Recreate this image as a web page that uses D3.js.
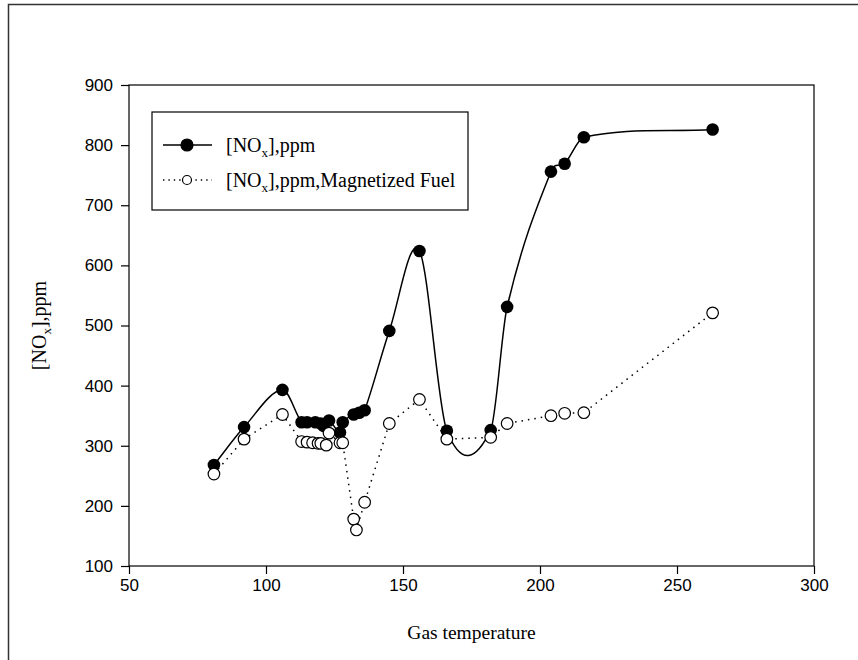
<!DOCTYPE html>
<html>
<head>
<meta charset="utf-8">
<script src="https://cdn.jsdelivr.net/npm/d3@7"></script>
<style>
  html, body { margin: 0; padding: 0; background: #fff; }
  svg { display: block; }
</style>
</head>
<body>
<svg id="chart" width="858" height="660"></svg>
<script>
// ---- data ----
const xTicks = [50, 100, 150, 200, 250, 300];
const yTicks = [100, 200, 300, 400, 500, 600, 700, 800, 900];

const tempNormal = [81, 92, 106, 113, 115, 118, 120, 121, 123, 127, 128, 132, 134, 136, 145, 156, 166, 182, 188, 204, 209, 216, 263];
const noxNormal  = [268, 331, 393, 339, 339, 339, 337, 333, 342, 322, 339, 352, 355, 359, 491, 624, 325, 326, 531, 756, 769, 813, 826];

const tempMagnet = [81, 92, 106, 113, 115, 117, 119, 120, 122, 123, 127, 128, 132, 133, 136, 145, 156, 166, 182, 188, 204, 209, 216, 263];
const noxMagnet  = [253, 311, 352, 307, 306, 305, 304, 304, 301, 321, 305, 305, 178, 160, 206, 337, 377, 311, 314, 337, 350, 354, 355, 521];

const seriesNames = ["ppm", "ppm,Magnetized Fuel"];

// ---- layout ----
const svg = d3.select("#chart");
const X0 = 129, X1 = 814, Y0 = 566, Y1 = 85;
const x = d3.scaleLinear().domain([50, 300]).range([X0, X1]);
const y = d3.scaleLinear().domain([100, 900]).range([Y0, Y1]);
const serif = "Liberation Serif, Times New Roman, serif";

// outer frame
svg.append("rect").attr("x", 8.5).attr("y", 4.5).attr("width", 900).attr("height", 700)
  .attr("fill", "none").attr("stroke", "#333").attr("stroke-width", 1.5);

// plot box
svg.append("rect").attr("x", X0).attr("y", Y1).attr("width", X1 - X0).attr("height", Y0 - Y1)
  .attr("fill", "none").attr("stroke", "#000").attr("stroke-width", 1.2);

const gx = svg.append("g").attr("transform", `translate(0,${Y0})`)
  .call(d3.axisBottom(x).tickValues(xTicks).tickSize(8).tickPadding(5).tickFormat(d3.format("d")));
const gy = svg.append("g").attr("transform", `translate(${X0},0)`)
  .call(d3.axisLeft(y).tickValues(yTicks).tickSize(8).tickPadding(8).tickFormat(d3.format("d")));
[gx, gy].forEach(g => {
  g.select(".domain").remove();
  g.selectAll("line").attr("stroke", "#000").attr("stroke-width", 1.2);
  g.selectAll("text").attr("font-family", "Liberation Sans, Arial, sans-serif")
    .attr("font-size", 17).attr("fill", "#000");
});

// custom x-based Catmull-Rom (cubic Hermite) curve
function XSpline(context) { this._context = context; }
XSpline.prototype = {
  areaStart() {}, areaEnd() {},
  lineStart() { this._pts = []; },
  point(px, py) { this._pts.push([+px, +py]); },
  lineEnd() {
    const p = this._pts, n = p.length, c = this._context;
    if (!n) return;
    const m = p.map((d, i) => {
      if (n < 2) return 0;
      if (i === 0) return (p[1][1] - p[0][1]) / (p[1][0] - p[0][0]);
      if (i === n - 1) return (p[n - 1][1] - p[n - 2][1]) / (p[n - 1][0] - p[n - 2][0]);
      return (p[i + 1][1] - p[i - 1][1]) / (p[i + 1][0] - p[i - 1][0]);
    });
    c.moveTo(p[0][0], p[0][1]);
    for (let i = 0; i < n - 1; i++) {
      const h = p[i + 1][0] - p[i][0];
      c.bezierCurveTo(p[i][0] + h / 3, p[i][1] + m[i] * h / 3,
                      p[i + 1][0] - h / 3, p[i + 1][1] - m[i + 1] * h / 3,
                      p[i + 1][0], p[i + 1][1]);
    }
  }
};
const xSpline = ctx => new XSpline(ctx);

const normal = tempNormal.map((t, i) => ({ t, v: noxNormal[i] }));
const magnet = tempMagnet.map((t, i) => ({ t, v: noxMagnet[i] }));

const plot = svg.append("g");

plot.append("path").datum(normal)
  .attr("d", d3.line().x(d => x(d.t)).y(d => y(d.v)).curve(xSpline))
  .attr("fill", "none").attr("stroke", "#000").attr("stroke-width", 1.5);

plot.append("path").datum(magnet)
  .attr("d", d3.line().x(d => x(d.t)).y(d => y(d.v)).curve(d3.curveLinear))
  .attr("fill", "none").attr("stroke", "#000").attr("stroke-width", 1.5)
  .attr("stroke-dasharray", "1.5,5").attr("stroke-linecap", "butt");

plot.selectAll("circle.n").data(normal).join("circle").attr("class", "n")
  .attr("cx", d => x(d.t)).attr("cy", d => y(d.v)).attr("r", 6.3)
  .attr("fill", "#000");

plot.selectAll("circle.m").data(magnet).join("circle").attr("class", "m")
  .attr("cx", d => x(d.t)).attr("cy", d => y(d.v)).attr("r", 5.8)
  .attr("fill", "#fff").attr("stroke", "#000").attr("stroke-width", 1.2);

// legend
const lg = svg.append("g");
const LX = 152, LY = 112, LW = 316, LH = 98;
lg.append("rect").attr("x", LX).attr("y", LY).attr("width", LW).attr("height", LH)
  .attr("fill", "#fff").attr("stroke", "#000").attr("stroke-width", 1.2);
const rows = [
  { yy: LY + 33, dash: null, fill: "#000", r: 6, name: seriesNames[0] },
  { yy: LY + 68, dash: "1.4,4", fill: "#fff", r: 4.5, name: seriesNames[1] }
];
rows.forEach(r => {
  lg.append("line").attr("x1", LX + 11).attr("x2", LX + 60).attr("y1", r.yy).attr("y2", r.yy)
    .attr("stroke", "#000").attr("stroke-width", 1.3).attr("stroke-dasharray", r.dash);
  lg.append("circle").attr("cx", LX + 35).attr("cy", r.yy).attr("r", r.r)
    .attr("fill", r.fill).attr("stroke", "#000").attr("stroke-width", 1.2);
  const t = lg.append("text").attr("x", LX + 74).attr("y", r.yy + 7)
    .attr("font-family", serif).attr("font-size", 20).attr("fill", "#000");
  t.append("tspan").text("[NO");
  t.append("tspan").attr("font-size", 13).attr("dy", 5).text("x");
  t.append("tspan").attr("dy", -5).text("]," + r.name);
});

// axis titles
svg.append("text").attr("x", (X0 + X1) / 2).attr("y", 639).attr("text-anchor", "middle")
  .attr("font-family", serif).attr("font-size", 19.5)
  .text("Gas temperature");

const yt = svg.append("text").attr("transform", `translate(46,${(Y0 + Y1) / 2}) rotate(-90)`)
  .attr("text-anchor", "middle")
  .attr("font-family", serif).attr("font-size", 20);
yt.append("tspan").text("[NO");
yt.append("tspan").attr("font-size", 13).attr("dy", 5).text("x");
yt.append("tspan").attr("dy", -5).text("],ppm");
</script>
</body>
</html>
